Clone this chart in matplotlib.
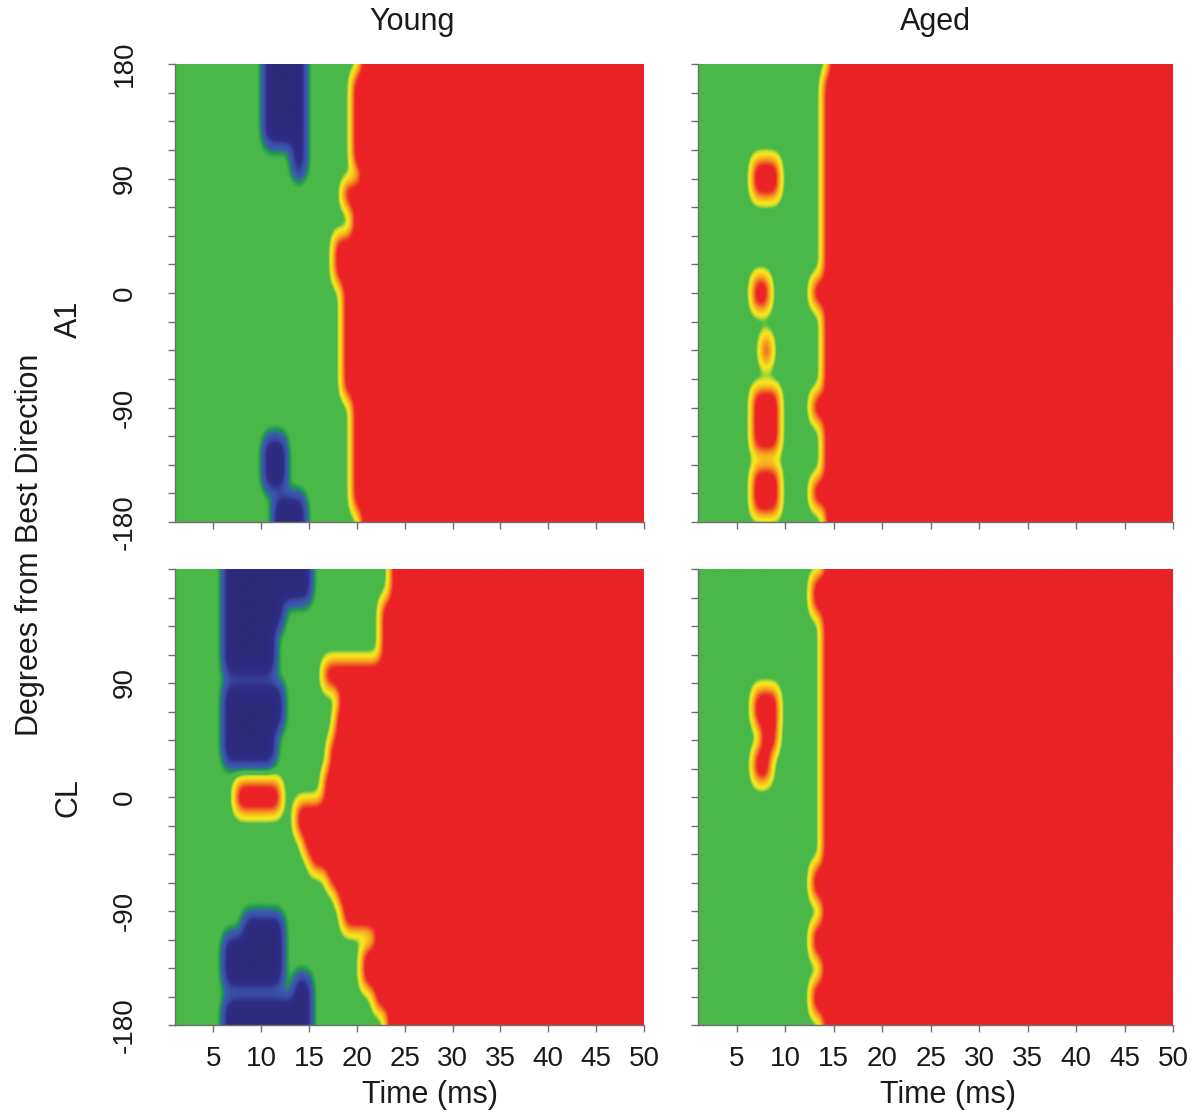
import numpy as np
import matplotlib
matplotlib.use("Agg")
import matplotlib.pyplot as plt
from matplotlib.colors import LinearSegmentedColormap

plt.rcParams['font.family'] = ['Liberation Sans', 'DejaVu Sans']

# ---------------------------------------------------------------------------
# Data
# ---------------------------------------------------------------------------
# Sustained-response onset (ms) per band of direction.  Edges run from +180
# down to -180; onset[i] applies between edges[i] and edges[i + 1].
young_a1_edges = [180, 172, 97, 86, 68, 44, 8, -82, -171, -180]
young_a1_onset = [20.5, 19.6, 20.5, 18.6, 19.6, 17.7, 18.6, 19.6, 20.5]

young_cl_edges = [180, 155, 106, 86, 67, 45, 20, -5, -30, -45, -58, -72,
                  -85, -105, -119, -151, -168, -180]
young_cl_onset = [23.6, 22.6, 16.6, 18.2, 17.8, 17.2, 16.6, 13.7, 14.5,
                  15.2, 17.0, 18.0, 18.6, 22.0, 20.6, 21.9, 23.2]

aged_a1_edges = [180, 171, 10, -10, -80, -100, -147, -168, -180]
aged_a1_onset = [14.6, 14.0, 12.8, 14.0, 12.8, 14.0, 12.8, 14.2]

aged_cl_edges = [180, 174, 145, -55, -81, -101, -127, -146, -172, -180]
aged_cl_onset = [14.1, 12.8, 13.9, 12.8, 13.9, 12.8, 13.9, 12.8, 14.0]

# Early transient patches: (angle_lo, angle_hi, t_lo, t_hi, level)
# level -1 = suppression, +1 = excitation
young_a1_patches = [
    (119, 180, 10.5, 14.5, -1),
    (94, 119, 13.5, 14.5, -1),
    (-152, -116, 10.5, 12.5, -1),
    (-180, -162, 11.5, 14.5, -1),
]
young_cl_patches = [
    (157, 180, 6.3, 15.1, -1),
    (136, 157, 6.3, 12.2, -1),
    (98, 136, 6.3, 11.4, -1),
    (56, 87, 6.3, 12.2, -1),
    (28, 56, 6.3, 11.4, -1),
    (-11, 11, 7.4, 12.1, 1),
    (-112, -96, 8.3, 12.2, -1),
    (-148, -112, 6.3, 12.2, -1),
    (-180, -144, 13.6, 15.1, -1),
    (-180, -161, 6.3, 15.1, -1),
]
aged_a1_patches = [
    (76, 104, 6.7, 9.4, 1),
    (-12, 12, 6.7, 8.4, 1),
    (-56, -34, 7.6, 8.6, 0.9),
    (-124, -76, 6.7, 9.4, 1),
    (-173, -138, 6.7, 9.4, 1),
]
aged_cl_patches = [
    (57, 84, 6.8, 9.3, 1),
    (37, 57, 7.6, 9.2, 1),
    (13, 37, 6.8, 8.5, 1),
]

panels = [
    ("Young", "A1", young_a1_edges, young_a1_onset, young_a1_patches),
    ("Aged", "A1", aged_a1_edges, aged_a1_onset, aged_a1_patches),
    ("Young", "CL", young_cl_edges, young_cl_onset, young_cl_patches),
    ("Aged", "CL", aged_cl_edges, aged_cl_onset, aged_cl_patches),
]

# ---------------------------------------------------------------------------
# Field construction
# ---------------------------------------------------------------------------
dt, da = 0.1, 1.0
t = np.arange(1.0, 50.0 + dt / 2, dt)
a = np.arange(-180.0, 180.0 + da / 2, da)
T, A = np.meshgrid(t, a)


def gaussian_smooth(field, sig_rows, sig_cols):
    out = field
    for axis, sig in ((0, sig_rows), (1, sig_cols)):
        r = int(np.ceil(3 * sig))
        k = np.exp(-0.5 * (np.arange(-r, r + 1) / sig) ** 2)
        k /= k.sum()
        pad = [(0, 0), (0, 0)]
        pad[axis] = (r, r)
        p = np.pad(out, pad, mode="edge")
        acc = np.zeros_like(out)
        n = out.shape[axis]
        for i, w in enumerate(k):
            acc += w * (p[i:i + n, :] if axis == 0 else p[:, i:i + n])
        out = acc
    return out


def build_field(edges, onsets, patches):
    onset_at = np.full(a.shape, onsets[-1])
    for hi, lo, on in zip(edges[:-1], edges[1:], onsets):
        onset_at[(a <= hi) & (a >= lo)] = on
    field = (T >= onset_at[:, None]).astype(float)
    for a_lo, a_hi, t_lo, t_hi, level in patches:
        m = (A >= a_lo) & (A <= a_hi) & (T >= t_lo) & (T <= t_hi)
        field[m] = level
    return gaussian_smooth(field, 7.5 / da, 0.5 / dt)


cmap = LinearSegmentedColormap.from_list("resp", [
    (0.000, "#2d2a7c"),
    (0.200, "#2f2d88"),
    (0.300, "#3a4fa6"),
    (0.380, "#3a5cae"),
    (0.440, "#1f9750"),
    (0.480, "#4ab849"),
    (0.550, "#4ab849"),
    (0.585, "#c9dc2f"),
    (0.625, "#f9ea1b"),
    (0.740, "#f49a20"),
    (0.860, "#ec2426"),
    (1.000, "#eb2227"),
])

# ---------------------------------------------------------------------------
# Figure
# ---------------------------------------------------------------------------
W, H = 1202, 1120
fig = plt.figure(figsize=(W / 100, H / 100), dpi=100)

boxes = {  # left, top, right, bottom in pixels
    (0, 0): (175, 64, 644, 522),
    (0, 1): (698, 64, 1173, 522),
    (1, 0): (175, 569, 644, 1025),
    (1, 1): (698, 569, 1173, 1025),
}
spine_col = "#6f6f6f"
text_col = "#1a1a1a"

for idx, (group, area, edges, onsets, patches) in enumerate(panels):
    row, col = divmod(idx, 2)
    l, tp, r, b = boxes[(row, col)]
    ax = fig.add_axes([l / W, 1 - b / H, (r - l) / W, (b - tp) / H])
    field = build_field(edges, onsets, patches)
    ax.imshow(field, extent=[t[0] - dt / 2, t[-1] + dt / 2, a[0] - da / 2, a[-1] + da / 2],
              origin="lower", aspect="auto", cmap=cmap, vmin=-1, vmax=1,
              interpolation="bilinear")
    ax.set_xlim(1, 50)
    ax.set_ylim(-180, 180)
    for s in ("top", "right"):
        ax.spines[s].set_visible(False)
    for s in ("left", "bottom"):
        ax.spines[s].set_color(spine_col)
        ax.spines[s].set_linewidth(1.0)

    yt = np.arange(-180, 180.1, 22.5)
    ax.set_yticks(yt)
    if col == 0:
        labs = []
        for v in yt:
            if v % 90 == 0 and not (row == 1 and v == 180):
                labs.append(f"{int(v)}")
            else:
                labs.append("")
        ax.set_yticklabels(labs, rotation=90, va="center")
    else:
        ax.set_yticklabels([])
    xt = np.arange(5, 51, 5)
    ax.set_xticks(xt)
    if row == 1:
        ax.set_xticklabels([str(v) for v in xt])
    else:
        ax.set_xticklabels([])
    ax.tick_params(axis="both", direction="out", length=5, width=1.0,
                   color=spine_col, labelsize=20, labelcolor=text_col)
    ax.tick_params(axis="y", pad=22)
    ax.tick_params(axis="x", pad=10)

# column titles
fig.text(412 / W, 1 - 22 / H, "Young", ha="center", va="center", fontsize=22, color=text_col)
fig.text(935 / W, 1 - 22 / H, "Aged", ha="center", va="center", fontsize=22, color=text_col)
# row labels
fig.text(69 / W, 1 - 319 / H, "A1", ha="center", va="center", rotation=90, fontsize=22, color=text_col)
fig.text(69 / W, 1 - 798 / H, "CL", ha="center", va="center", rotation=90, fontsize=22, color=text_col)
fig.text(30 / W, 1 - 545 / H, "Degrees from Best Direction", ha="center", va="center",
         rotation=90, fontsize=22, color=text_col)
# time axis labels
fig.text(430 / W, 1 - 1095 / H, "Time (ms)", ha="center", va="center", fontsize=22, color=text_col)
fig.text(948 / W, 1 - 1095 / H, "Time (ms)", ha="center", va="center", fontsize=22, color=text_col)

fig.savefig("out.png", dpi=100)
